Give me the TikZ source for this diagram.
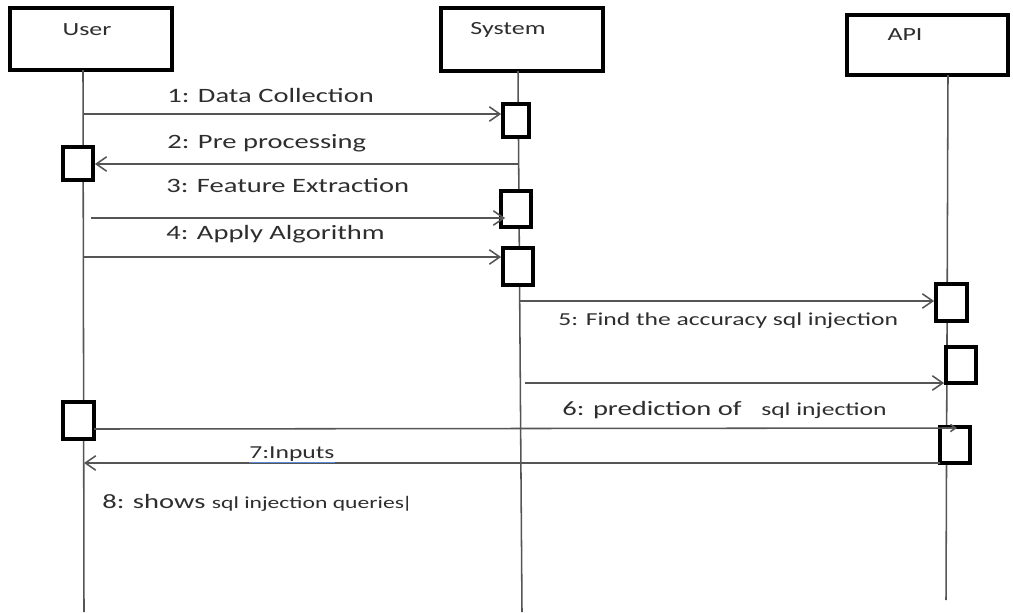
\documentclass[tikz,border=0pt]{standalone}
\usepackage{fontspec}
\setmainfont{Carlito}[FakeStretch=1.4]
\usetikzlibrary{arrows.meta,positioning,fit}
\definecolor{lineGrey}{HTML}{555555}
\definecolor{textGrey}{HTML}{2E2E2E}
\definecolor{linkBlue}{HTML}{5B8BD6}
\tikzset{
  actor/.style={draw=black, line width=3.2pt, fill=white, inner sep=0pt},
  actbox/.style={draw=black, line width=2.7pt, fill=white, inner sep=0pt},
  life/.style={draw=lineGrey, line width=1.1pt},
  msg/.style={-{Straight Barb[length=2.6mm,width=3.6mm]}, lineGrey, line width=1.1pt},
  tinymsg/.style={-{Straight Barb[length=1.3mm,width=1.8mm]}, lineGrey, line width=1.1pt},
  headlbl/.style={font=\fontsize{13.2}{15}\selectfont, text=textGrey, inner sep=0pt},
  lbl/.style={font=\fontsize{14.5}{16}\selectfont, text=textGrey, inner sep=0pt, anchor=west},
  slbl/.style={font=\fontsize{13}{15}\selectfont, text=textGrey, inner sep=0pt, anchor=west}
}

\begin{document}
\begin{tikzpicture}[x=0.025cm,y=-0.025cm]
  % pixel grid of the reference, y runs downwards
  \useasboundingbox (0,0) rectangle (1013,612);
  % actors
  \node[actor, fit={(10,8) (172,70)}] (user) {};
  \node[actor, fit={(441,8) (603,71)}] (system) {};
  \node[actor, fit={(847,15) (1008,75)}] (api) {};
  \node[headlbl] (userlbl) at (87,30) {User};
  \node[headlbl] (systemlbl) at (508,30) {System};
  \node[headlbl] (apilbl) at (905,35) {API};
  % lifelines
  \coordinate (userTop) at (83,70);   \coordinate (userEnd) at (84,612);
  \coordinate (sysTop) at (518,71);   \coordinate (sysEnd) at (522,612);
  \coordinate (apiTop) at (948,75);   \coordinate (apiEnd) at (946,600);
  \draw[life] (userTop) -- (userEnd);
  \draw[life] (sysTop) -- (sysEnd);
  \draw[life] (apiTop) -- (apiEnd);
  % activation boxes
  \node[actbox, fit={(63,147) (93,180)}] (uA1) {};
  \node[actbox, fit={(63,402) (94,439)}] (uA2) {};
  \node[actbox, fit={(503,104) (529,137)}] (sA1) {};
  \node[actbox, fit={(501,191) (531,227)}] (sA2) {};
  \node[actbox, fit={(503,248) (533,285)}] (sA3) {};
  \node[actbox, fit={(936,284) (967,321)}] (aA1) {};
  \node[actbox, fit={(946,347) (976,383)}] (aA2) {};
  \node[actbox, fit={(940,427) (970,463)}] (aA3) {};
  % messages
  \coordinate (m1) at (83,114);
  \coordinate (m2) at (518,164);
  \coordinate (m3) at (91,218);
  \coordinate (m4) at (83,257);
  \coordinate (m5) at (520,301);
  \coordinate (m5b) at (525,383);
  \coordinate (m6) at (94,429);
  \coordinate (m6end) at (957,428);
  \coordinate (m7) at (940,463);
  \draw[msg] (m1) -- (m1 -| sA1.west);
  \draw[msg] (m2) -- (m2 -| uA1.east);
  \draw[msg] (m3) -- ([xshift=0.15cm]m3 -| sA2.west);
  \draw[msg] (m4) -- (m4 -| sA3.west);
  \draw[msg] (m5) -- (m5 -| aA1.west);
  \draw[msg] (m5b) -- (m5b -| aA2.west);
  \draw[tinymsg] (m6) -- (m6end);
  \draw[msg] (m7) -- (m7 -| userEnd);
  % labels
  \node[lbl] (l1) at (167,95) {1: Data Collection};
  \node[lbl] (l2) at (167,143) {2: Pre processing};
  \node[lbl] (l3) at (166,186) {3: Feature Extraction};
  \node[lbl] (l4) at (166,234) {4: Apply Algorithm};
  \node[slbl] (l5) at (558,321) {5: Find the accuracy sql injection};
  \node[lbl] (l6) at (562,410) {6: prediction of\hspace{14pt}{\fontsize{13}{15}\selectfont sql injection}};
  \node[slbl] (l7) at (249,454) {7:Inputs};
  \draw[linkBlue, line width=1.2pt] ([yshift=-0.02cm]l7.south west) -- ([yshift=-0.02cm]l7.south east);
  \node[lbl] (l8) at (102,503) {8: shows {\fontsize{12}{15}\selectfont sql injection queries\hspace{-1.5pt}|}};
\end{tikzpicture}
\end{document}
